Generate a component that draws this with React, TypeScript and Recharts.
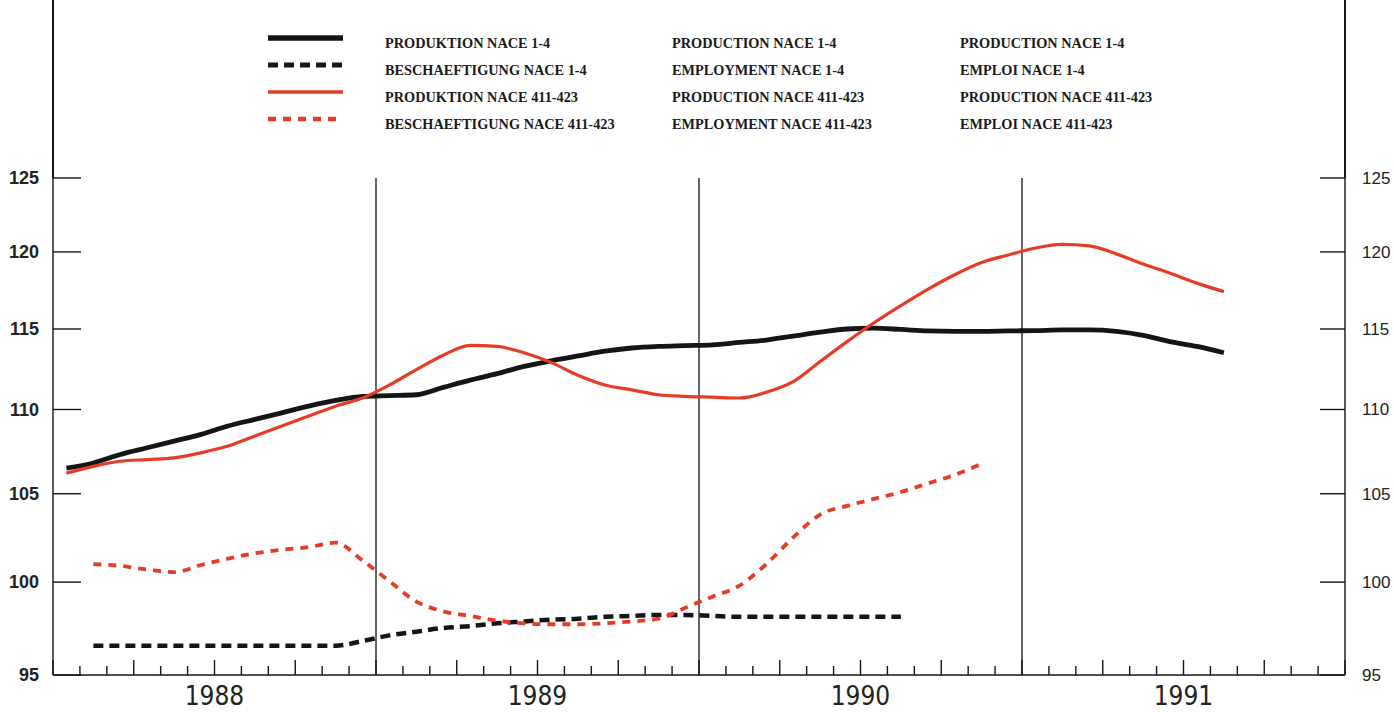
import { LineChart, Line, XAxis, YAxis, ReferenceLine } from "recharts";

// monthly index values, Jan 1988 onwards
const prodTotal = [
  106.5, 106.8, 107.3, 107.7, 108.1, 108.5, 109.0, 109.4, 109.8, 110.2, 110.55, 110.8,
  110.85, 110.9, 111.35, 111.8, 112.2, 112.65, 113.0, 113.3, 113.6, 113.8, 113.9, 113.95,
  114.0, 114.15, 114.3, 114.55, 114.8, 115.0, 115.05, 114.97, 114.88, 114.85, 114.85, 114.88,
  114.9, 114.94, 114.94, 114.85, 114.6, 114.2, 113.9, 113.5,
];

const prodMetal = [
  106.2, 106.6, 106.9, 107.0, 107.1, 107.4, 107.8, 108.4, 109.0, 109.6, 110.2, 110.7,
  111.5, 112.45, 113.35, 113.97, 113.9, 113.5, 112.9, 112.1, 111.5, 111.2, 110.9, 110.8,
  110.75, 110.7, 111.05, 111.7, 112.95, 114.2, 115.4, 116.5, 117.55, 118.5, 119.3, 119.8,
  120.26, 120.5, 120.4, 119.87, 119.2, 118.6, 117.95, 117.4,
];

const empTotal = [
  null, 96.55, 96.55, 96.55, 96.55, 96.55, 96.55, 96.55, 96.55, 96.55, 96.55, 96.8,
  97.1, 97.3, 97.5, 97.6, 97.75, 97.85, 97.95, 98.0, 98.1, 98.15, 98.2, 98.2,
  98.15, 98.1, 98.1, 98.1, 98.1, 98.1, 98.1, 98.1,
];

const empMetal = [
  null, 101.0, 100.9, 100.7, 100.55, 100.95, 101.3, 101.6, 101.8, 101.95, 102.2, 101.2,
  100.05, 98.93, 98.4, 98.15, 97.9, 97.75, 97.7, 97.7, 97.75, 97.85, 98.0, 98.6,
  99.2, 99.8, 101.0, 102.5, 103.8, 104.3, 104.7, 105.1, 105.6, 106.1, 106.75,
];

const years = ["1988", "1989", "1990", "1991"];
const yTicks = [95, 100, 105, 110, 115, 120, 125];
const monthTicks = Array.from({ length: years.length * 12 + 1 }, (_, i) => i);

const labelsDe = [
  "PRODUKTION NACE 1-4",
  "BESCHAEFTIGUNG NACE 1-4",
  "PRODUKTION NACE 411-423",
  "BESCHAEFTIGUNG NACE 411-423",
];
const labelsEn = [
  "PRODUCTION NACE 1-4",
  "EMPLOYMENT NACE 1-4",
  "PRODUCTION NACE 411-423",
  "EMPLOYMENT NACE 411-423",
];
const labelsFr = [
  "PRODUCTION NACE 1-4",
  "EMPLOI NACE 1-4",
  "PRODUCTION NACE 411-423",
  "EMPLOI NACE 411-423",
];

const BLACK = "#151515";
const RED = "#e63c27";

const series = [
  { key: "prodTotal", color: BLACK, width: 4.8, dash: undefined },
  { key: "empTotal", color: BLACK, width: 4.5, dash: "10 6" },
  { key: "prodMetal", color: RED, width: 3.2, dash: undefined },
  { key: "empMetal", color: RED, width: 3.8, dash: "8 7" },
];

const data = prodTotal.map((_, i) => ({
  m: i + 0.5,
  prodTotal: prodTotal[i],
  prodMetal: prodMetal[i],
  empTotal: empTotal[i] ?? null,
  empMetal: empMetal[i] ?? null,
}));

const MonthTick = ({ x, y, payload }: any) => {
  const v = payload.value;
  const len = v % 3 === 0 ? 15 : 9;
  return (
    <g>
      <line x1={x} x2={x} y1={y} y2={y - len} stroke={BLACK} strokeWidth={1.4} />
      {v % 12 === 6 && (
        <text
          x={x}
          y={y + 30}
          textAnchor="middle"
          fontSize={26}
          fill="#222"
          fontFamily="'Liberation Sans Narrow', 'DejaVu Sans Condensed', sans-serif"
        >
          {years[Math.floor(v / 12)]}
        </text>
      )}
    </g>
  );
};

const LeftTick = ({ x, y, payload }: any) => (
  <g>
    <line x1={x + 14} x2={x + 42} y1={y} y2={y} stroke={BLACK} strokeWidth={1.4} />
    <text
      x={x}
      y={y}
      dy="0.35em"
      textAnchor="end"
      fontSize={18}
      fontWeight="bold"
      fill="#222"
      fontFamily="'Liberation Sans', Arial, sans-serif"
    >
      {payload.value}
    </text>
  </g>
);

const RightTick = ({ x, y, payload }: any) => (
  <g>
    <line x1={x - 17} x2={x - 42} y1={y} y2={y} stroke={BLACK} strokeWidth={1.4} />
    <text
      x={x}
      y={y}
      dy="0.35em"
      textAnchor="start"
      fontSize={17}
      fill="#222"
      fontFamily="'Liberation Sans', Arial, sans-serif"
    >
      {payload.value}
    </text>
  </g>
);

const LegendBlock = () => (
  <svg width={1394} height={140} style={{ position: "absolute", left: 0, top: 0 }}>
    {series.map((s, i) => {
      const y = 43 + i * 27;
      return (
        <g key={s.key}>
          <line
            x1={268}
            x2={343}
            y1={y - 5}
            y2={y - 5}
            stroke={s.color}
            strokeWidth={s.width + 0.5}
            strokeDasharray={s.dash}
          />
          {[labelsDe[i], labelsEn[i], labelsFr[i]].map((t, j) => (
            <text
              key={j}
              x={[385, 672, 960][j]}
              y={y}
              dy="0.35em"
              fontSize={14.3}
              fontWeight="bold"
              fill="#1a1a1a"
              fontFamily="'Liberation Serif', 'DejaVu Serif', serif"
            >
              {t}
            </text>
          ))}
        </g>
      );
    })}
  </svg>
);

export default function App() {
  return (
    <div
      style={{
        position: "absolute",
        left: 0,
        top: 0,
        width: 1394,
        height: 712,
        background: "#fff",
        fontFamily: "'Liberation Sans', sans-serif",
      }}
    >
      <LineChart
        width={1394}
        height={712}
        data={data}
        margin={{ top: 178, right: 0, bottom: 0, left: 0 }}
      >
        <XAxis
          type="number"
          dataKey="m"
          domain={[0, 48]}
          ticks={monthTicks}
          interval={0}
          height={37}
          tickSize={0}
          tickMargin={0}
          tickLine={false}
          tick={<MonthTick />}
          axisLine={{ stroke: BLACK, strokeWidth: 1.6 }}
        />
        <YAxis
          yAxisId="l"
          orientation="left"
          scale="log"
          type="number"
          domain={[95, 125]}
          allowDataOverflow
          ticks={yTicks}
          interval={0}
          width={53}
          tickSize={0}
          tickMargin={14}
          tickLine={false}
          tick={<LeftTick />}
          axisLine={{ stroke: BLACK, strokeWidth: 1.4 }}
        />
        <YAxis
          yAxisId="r"
          orientation="right"
          scale="log"
          type="number"
          domain={[95, 125]}
          allowDataOverflow
          ticks={yTicks}
          interval={0}
          width={49}
          tickSize={0}
          tickMargin={17}
          tickLine={false}
          tick={<RightTick />}
          axisLine={{ stroke: BLACK, strokeWidth: 1.4 }}
        />
        {[12, 24, 36].map((v) => (
          <ReferenceLine key={v} yAxisId="l" x={v} stroke={BLACK} strokeWidth={1.3} />
        ))}
        {series.map((s) => (
          <Line
            key={s.key}
            yAxisId="l"
            type="monotone"
            dataKey={s.key}
            stroke={s.color}
            strokeWidth={s.width}
            strokeDasharray={s.dash}
            dot={false}
            activeDot={false}
            connectNulls={false}
            isAnimationActive={false}
          />
        ))}
      </LineChart>
      <div style={{ position: "absolute", left: 52.3, top: 0, width: 1.4, height: 178, background: BLACK }} />
      <div style={{ position: "absolute", left: 1344.3, top: 0, width: 1.4, height: 178, background: BLACK }} />
      <LegendBlock />
    </div>
  );
}
